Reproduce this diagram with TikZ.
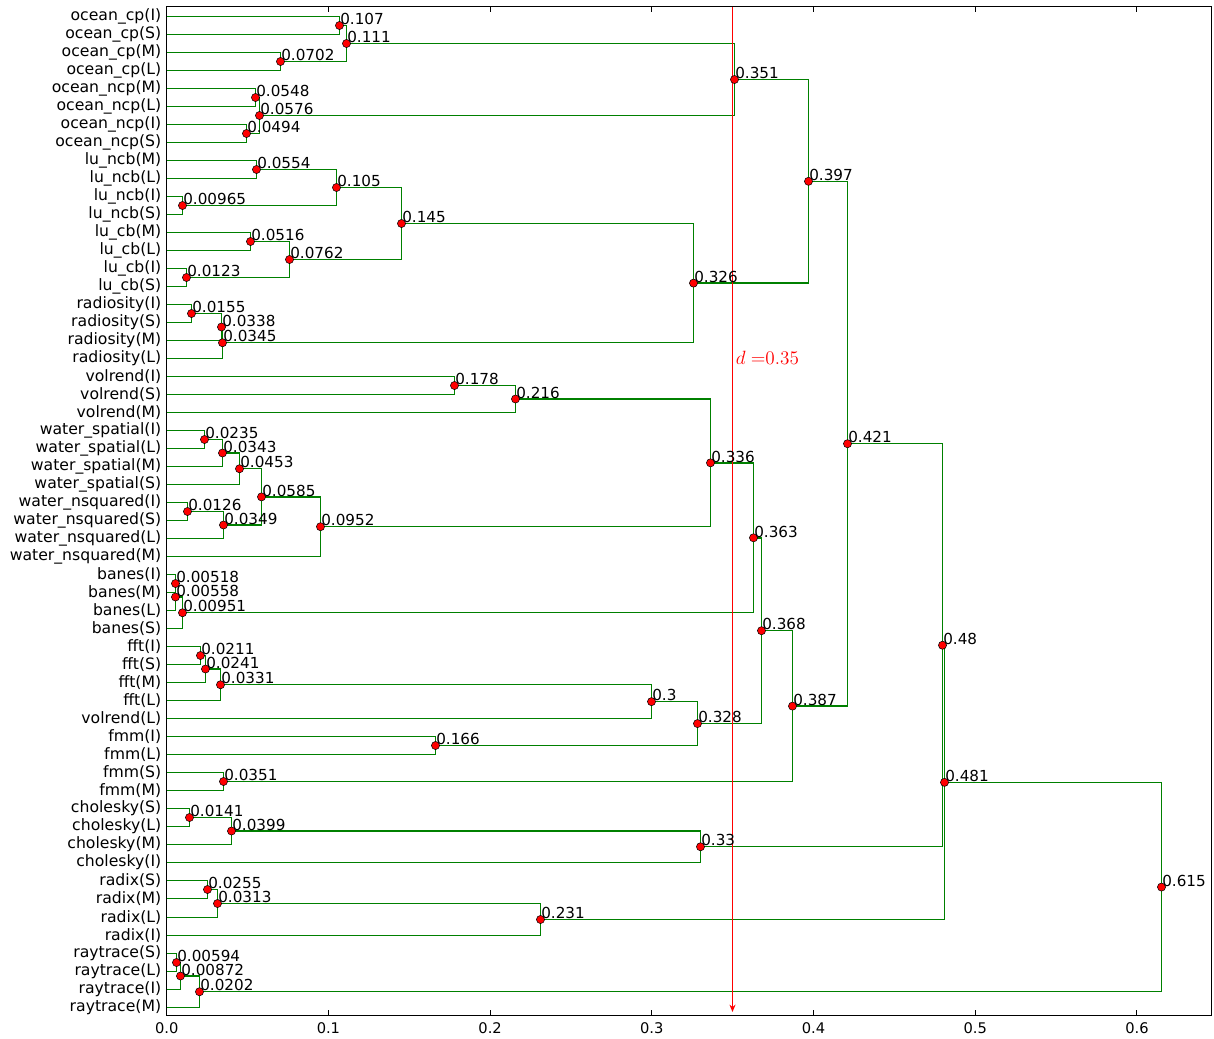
\documentclass[tikz,border=0pt]{standalone}
\usepackage[no-math]{fontspec}
\setmainfont{DejaVu Sans}
\usetikzlibrary{calc,arrows.meta}
\pgfdeclarelayer{fg}
\pgfsetlayers{main,fg}
\definecolor{mgreen}{rgb}{0,0.5,0}
\tikzset{
  link/.style={draw=mgreen, line width=1.05pt},
  dot/.style={circle, fill=red, draw=black, line width=0.4pt, minimum size=6.1pt, inner sep=0pt},
  num/.style={anchor=base west, inner sep=0pt, xshift=0.4pt, yshift=0.6pt, font=\fontsize{11.4}{13}\selectfont},
  leaflab/.style={anchor=east, inner sep=0pt, font=\fontsize{11.75}{13}\selectfont},
  ticklab/.style={anchor=north, inner sep=0pt, font=\fontsize{11}{13}\selectfont},
  tickmark/.style={draw=black, line width=0.8pt},
  frame/.style={draw=black, line width=1.05pt},
  cutline/.style={draw=red, line width=1pt, -{Stealth[length=5.5pt,width=4.5pt]}}
}
\newcommand\dmerge[5]{%
  \coordinate (#1c) at ($(#3)!0.5!(#4)$);
  \coordinate (#1h) at ({floor(166.7+1617*#2)+0.5},0);
  \coordinate (#1) at (#1c -| #1h);
  \draw[link] (#3) -- (#3 -| #1) -- (#4 -| #1) -- (#4);
  \begin{pgfonlayer}{fg}
    \node[dot] (#1d) at (#1) {};
    \node[num] (#1t) at (#1) {#5};
  \end{pgfonlayer}}
\begin{document}
\begin{tikzpicture}[x=0.75pt,y=-0.75pt]
\useasboundingbox (0,0) rectangle (1214,1039);
% leaves
\foreach \k/\t in {0/ocean\_cp(I),1/ocean\_cp(S),2/ocean\_cp(M),3/ocean\_cp(L),
  4/ocean\_ncp(M),5/ocean\_ncp(L),6/ocean\_ncp(I),7/ocean\_ncp(S),
  8/lu\_ncb(M),9/lu\_ncb(L),10/lu\_ncb(I),11/lu\_ncb(S),
  12/lu\_cb(M),13/lu\_cb(L),14/lu\_cb(I),15/lu\_cb(S),
  16/radiosity(I),17/radiosity(S),18/radiosity(M),19/radiosity(L),
  20/volrend(I),21/volrend(S),22/volrend(M),
  23/water\_spatial(I),24/water\_spatial(L),25/water\_spatial(M),26/water\_spatial(S),
  27/water\_nsquared(I),28/water\_nsquared(S),29/water\_nsquared(L),30/water\_nsquared(M),
  31/banes(I),32/banes(M),33/banes(L),34/banes(S),
  35/fft(I),36/fft(S),37/fft(M),38/fft(L),39/volrend(L),
  40/fmm(I),41/fmm(L),42/fmm(S),43/fmm(M),
  44/cholesky(S),45/cholesky(L),46/cholesky(M),47/cholesky(I),
  48/radix(S),49/radix(M),50/radix(L),51/radix(I),
  52/raytrace(S),53/raytrace(L),54/raytrace(I),55/raytrace(M)}{
  \coordinate (L\k) at (166.5,{floor(16+18.02*\k)+0.5});
  \node[leaflab] (T\k) at ($(L\k)+(-5,0)$) {\t};
}
% merges
\dmerge{a1}{0.107}{L0}{L1}{0.107}
\dmerge{a2}{0.0702}{L2}{L3}{0.0702}
\dmerge{a3}{0.111}{a1}{a2}{0.111}
\dmerge{a4}{0.0548}{L4}{L5}{0.0548}
\dmerge{a5}{0.0494}{L6}{L7}{0.0494}
\dmerge{a6}{0.0576}{a4}{a5}{0.0576}
\dmerge{a7}{0.351}{a3}{a6}{0.351}
\dmerge{b1}{0.0554}{L8}{L9}{0.0554}
\dmerge{b2}{0.00965}{L10}{L11}{0.00965}
\dmerge{b3}{0.105}{b1}{b2}{0.105}
\dmerge{b4}{0.0516}{L12}{L13}{0.0516}
\dmerge{b5}{0.0123}{L14}{L15}{0.0123}
\dmerge{b6}{0.0762}{b4}{b5}{0.0762}
\dmerge{b7}{0.145}{b3}{b6}{0.145}
\dmerge{c1}{0.0155}{L16}{L17}{0.0155}
\dmerge{c2}{0.0338}{c1}{L18}{0.0338}
\dmerge{c3}{0.0345}{c2}{L19}{0.0345}
\dmerge{c4}{0.326}{b7}{c3}{0.326}
\dmerge{c5}{0.397}{a7}{c4}{0.397}
\dmerge{d1}{0.178}{L20}{L21}{0.178}
\dmerge{d2}{0.216}{d1}{L22}{0.216}
\dmerge{e1}{0.0235}{L23}{L24}{0.0235}
\dmerge{e2}{0.0343}{e1}{L25}{0.0343}
\dmerge{e3}{0.0453}{e2}{L26}{0.0453}
\dmerge{e4}{0.0126}{L27}{L28}{0.0126}
\dmerge{e5}{0.0349}{e4}{L29}{0.0349}
\dmerge{e6}{0.0585}{e3}{e5}{0.0585}
\dmerge{e7}{0.0952}{e6}{L30}{0.0952}
\dmerge{e8}{0.336}{d2}{e7}{0.336}
\dmerge{f1}{0.00518}{L31}{L32}{0.00518}
\dmerge{f2}{0.00558}{f1}{L33}{0.00558}
\dmerge{f3}{0.00951}{f2}{L34}{0.00951}
\dmerge{f4}{0.363}{e8}{f3}{0.363}
\dmerge{g1}{0.0211}{L35}{L36}{0.0211}
\dmerge{g2}{0.0241}{g1}{L37}{0.0241}
\dmerge{g3}{0.0331}{g2}{L38}{0.0331}
\dmerge{g4}{0.3}{g3}{L39}{0.3}
\dmerge{g5}{0.166}{L40}{L41}{0.166}
\dmerge{g6}{0.328}{g4}{g5}{0.328}
\dmerge{g7}{0.368}{f4}{g6}{0.368}
\dmerge{g8}{0.0351}{L42}{L43}{0.0351}
\dmerge{g9}{0.387}{g7}{g8}{0.387}
\dmerge{h1}{0.421}{c5}{g9}{0.421}
\dmerge{i1}{0.0141}{L44}{L45}{0.0141}
\dmerge{i2}{0.0399}{i1}{L46}{0.0399}
\dmerge{i3}{0.33}{i2}{L47}{0.33}
\dmerge{h2}{0.48}{h1}{i3}{0.48}
\dmerge{j1}{0.0255}{L48}{L49}{0.0255}
\dmerge{j2}{0.0313}{j1}{L50}{0.0313}
\dmerge{j3}{0.231}{j2}{L51}{0.231}
\dmerge{h3}{0.481}{h2}{j3}{0.481}
\dmerge{k1}{0.00594}{L52}{L53}{0.00594}
\dmerge{k2}{0.00872}{k1}{L54}{0.00872}
\dmerge{k3}{0.0202}{k2}{L55}{0.0202}
\dmerge{h4}{0.615}{h3}{k3}{0.615}
% frame and ticks
\draw[frame] (166.5,6.5) rectangle (1211.5,1015.5);
\foreach \v/\n in {0.0/0,0.1/1,0.2/2,0.3/3,0.4/4,0.5/5,0.6/6}{
  \draw[tickmark] ({floor(166.7+1617*\v)+0.5},1015.5) -- ({floor(166.7+1617*\v)+0.5},1010);
  \draw[tickmark] ({floor(166.7+1617*\v)+0.5},6.5) -- ({floor(166.7+1617*\v)+0.5},12);
  \node[ticklab] (X\n) at ({166.7+1617*\v},1022) {\v};
}
% cut line
\coordinate (dtop) at (732.5,6.5);
\coordinate (dbot) at (732.5,1012);
\draw[cutline] (dtop) -- (dbot);
\node[anchor=base west, inner sep=0pt, text=red, font=\fontsize{14.5}{17}\selectfont] (dlab) at (735.5,364) {$d\;{=}0.35$};
\end{tikzpicture}
\end{document}
